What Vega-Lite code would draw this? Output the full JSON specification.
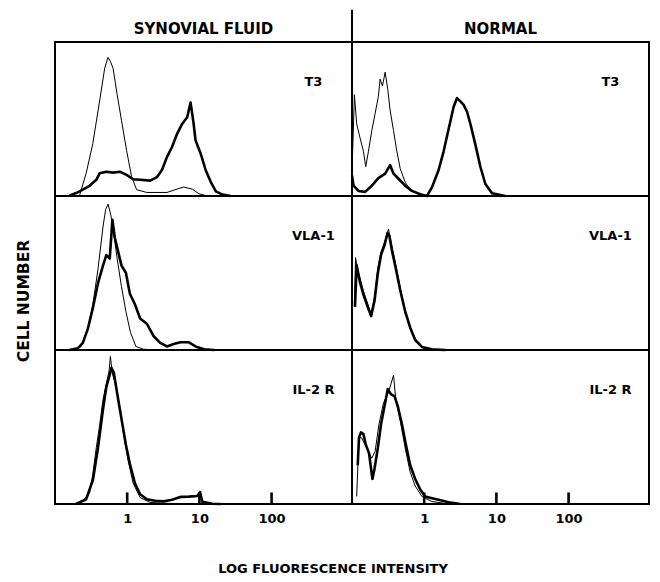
{
  "$schema": "https://vega.github.io/schema/vega-lite/v6.json",
  "background": "white",
  "padding": {"left": 16, "top": 7, "right": 5, "bottom": 5},
  "bounds": "flush",
  "data": {"values": [
    {"s":"SF","m":"T3","k":"label"},
    {"s":"SF","m":"VLA-1","k":"label"},
    {"s":"SF","m":"IL-2 R","k":"label"},
    {"s":"N","m":"T3","k":"label"},
    {"s":"N","m":"VLA-1","k":"label"},
    {"s":"N","m":"IL-2 R","k":"label"},
    {"s":"N","m":"T3","k":"div"},
    {"s":"SF","m":"VLA-1","k":"ytitle","t":"CELL  NUMBER"},

    {"s":"SF","m":"IL-2 R","k":"t1","x":1,"y":0},
    {"s":"SF","m":"IL-2 R","k":"t1","x":1,"y":7.5},
    {"s":"SF","m":"IL-2 R","k":"t10","x":10,"y":0},
    {"s":"SF","m":"IL-2 R","k":"t10","x":10,"y":7.5},
    {"s":"SF","m":"IL-2 R","k":"t100","x":100,"y":0},
    {"s":"SF","m":"IL-2 R","k":"t100","x":100,"y":7.5},
    {"s":"N","m":"IL-2 R","k":"t1","x":1,"y":0},
    {"s":"N","m":"IL-2 R","k":"t1","x":1,"y":7.5},
    {"s":"N","m":"IL-2 R","k":"t10","x":10,"y":0},
    {"s":"N","m":"IL-2 R","k":"t10","x":10,"y":7.5},
    {"s":"N","m":"IL-2 R","k":"t100","x":100,"y":0},
    {"s":"N","m":"IL-2 R","k":"t100","x":100,"y":7.5},

    {"s":"SF","m":"T3","k":"c","x":0.218,"y":0},
    {"s":"SF","m":"T3","k":"c","x":0.270,"y":14.7},
    {"s":"SF","m":"T3","k":"c","x":0.334,"y":34},
    {"s":"SF","m":"T3","k":"c","x":0.415,"y":61.7},
    {"s":"SF","m":"T3","k":"c","x":0.488,"y":83},
    {"s":"SF","m":"T3","k":"c","x":0.542,"y":90},
    {"s":"SF","m":"T3","k":"c","x":0.586,"y":87.4},
    {"s":"SF","m":"T3","k":"c","x":0.637,"y":83},
    {"s":"SF","m":"T3","k":"c","x":0.725,"y":66},
    {"s":"SF","m":"T3","k":"c","x":0.835,"y":48.9},
    {"s":"SF","m":"T3","k":"c","x":0.98,"y":29.7},
    {"s":"SF","m":"T3","k":"c","x":1.15,"y":12.6},
    {"s":"SF","m":"T3","k":"c","x":1.35,"y":4.1},
    {"s":"SF","m":"T3","k":"c","x":1.87,"y":2.3},
    {"s":"SF","m":"T3","k":"c","x":3.56,"y":2.3},
    {"s":"SF","m":"T3","k":"c","x":4.91,"y":4.5},
    {"s":"SF","m":"T3","k":"c","x":6.07,"y":5.8},
    {"s":"SF","m":"T3","k":"c","x":7.96,"y":4.5},
    {"s":"SF","m":"T3","k":"c","x":9.84,"y":1.5},
    {"s":"SF","m":"T3","k":"c","x":12.9,"y":0},

    {"s":"SF","m":"T3","k":"s","x":0.158,"y":0.2},
    {"s":"SF","m":"T3","k":"s","x":0.196,"y":1.9},
    {"s":"SF","m":"T3","k":"s","x":0.243,"y":4.1},
    {"s":"SF","m":"T3","k":"s","x":0.301,"y":6.6},
    {"s":"SF","m":"T3","k":"s","x":0.373,"y":10.5},
    {"s":"SF","m":"T3","k":"s","x":0.415,"y":14.7},
    {"s":"SF","m":"T3","k":"s","x":0.515,"y":15.8},
    {"s":"SF","m":"T3","k":"s","x":0.637,"y":15.2},
    {"s":"SF","m":"T3","k":"s","x":0.791,"y":15.8},
    {"s":"SF","m":"T3","k":"s","x":0.98,"y":13.7},
    {"s":"SF","m":"T3","k":"s","x":1.21,"y":10.9},
    {"s":"SF","m":"T3","k":"s","x":1.51,"y":10.5},
    {"s":"SF","m":"T3","k":"s","x":2.08,"y":10},
    {"s":"SF","m":"T3","k":"s","x":2.58,"y":12.2},
    {"s":"SF","m":"T3","k":"s","x":3.03,"y":16.9},
    {"s":"SF","m":"T3","k":"s","x":3.56,"y":25.4},
    {"s":"SF","m":"T3","k":"s","x":4.18,"y":31.8},
    {"s":"SF","m":"T3","k":"s","x":4.91,"y":40.4},
    {"s":"SF","m":"T3","k":"s","x":5.77,"y":46.8},
    {"s":"SF","m":"T3","k":"s","x":6.78,"y":51.1},
    {"s":"SF","m":"T3","k":"s","x":7.54,"y":60.7},
    {"s":"SF","m":"T3","k":"s","x":8.22,"y":48.9},
    {"s":"SF","m":"T3","k":"s","x":8.85,"y":36.1},
    {"s":"SF","m":"T3","k":"s","x":10.4,"y":27.6},
    {"s":"SF","m":"T3","k":"s","x":12.2,"y":16.9},
    {"s":"SF","m":"T3","k":"s","x":14.3,"y":9.4},
    {"s":"SF","m":"T3","k":"s","x":16.9,"y":3},
    {"s":"SF","m":"T3","k":"s","x":20.9,"y":0.9},
    {"s":"SF","m":"T3","k":"s","x":27.3,"y":0},

    {"s":"N","m":"T3","k":"c","x":0.1,"y":15.6},
    {"s":"N","m":"T3","k":"c","x":0.108,"y":65.8},
    {"s":"N","m":"T3","k":"c","x":0.116,"y":46.9},
    {"s":"N","m":"T3","k":"c","x":0.129,"y":37.9},
    {"s":"N","m":"T3","k":"c","x":0.144,"y":29},
    {"s":"N","m":"T3","k":"c","x":0.155,"y":19},
    {"s":"N","m":"T3","k":"c","x":0.169,"y":29},
    {"s":"N","m":"T3","k":"c","x":0.188,"y":42.4},
    {"s":"N","m":"T3","k":"c","x":0.209,"y":53.6},
    {"s":"N","m":"T3","k":"c","x":0.232,"y":64.7},
    {"s":"N","m":"T3","k":"c","x":0.245,"y":75.9},
    {"s":"N","m":"T3","k":"c","x":0.264,"y":71.4},
    {"s":"N","m":"T3","k":"c","x":0.288,"y":80.4},
    {"s":"N","m":"T3","k":"c","x":0.313,"y":69.2},
    {"s":"N","m":"T3","k":"c","x":0.337,"y":55.8},
    {"s":"N","m":"T3","k":"c","x":0.376,"y":42.4},
    {"s":"N","m":"T3","k":"c","x":0.418,"y":29},
    {"s":"N","m":"T3","k":"c","x":0.465,"y":17.9},
    {"s":"N","m":"T3","k":"c","x":0.545,"y":8.9},
    {"s":"N","m":"T3","k":"c","x":0.640,"y":4.5},
    {"s":"N","m":"T3","k":"c","x":0.792,"y":1.8},
    {"s":"N","m":"T3","k":"c","x":1.03,"y":0.4},
    {"s":"N","m":"T3","k":"c","x":1.28,"y":0},

    {"s":"N","m":"T3","k":"s","x":0.1,"y":13.4},
    {"s":"N","m":"T3","k":"s","x":0.105,"y":6.7},
    {"s":"N","m":"T3","k":"s","x":0.123,"y":3.3},
    {"s":"N","m":"T3","k":"s","x":0.152,"y":2.7},
    {"s":"N","m":"T3","k":"s","x":0.188,"y":6.7},
    {"s":"N","m":"T3","k":"s","x":0.232,"y":11.6},
    {"s":"N","m":"T3","k":"s","x":0.288,"y":14.5},
    {"s":"N","m":"T3","k":"s","x":0.337,"y":20.1},
    {"s":"N","m":"T3","k":"s","x":0.376,"y":14.5},
    {"s":"N","m":"T3","k":"s","x":0.441,"y":11.2},
    {"s":"N","m":"T3","k":"s","x":0.545,"y":6.7},
    {"s":"N","m":"T3","k":"s","x":0.675,"y":3.3},
    {"s":"N","m":"T3","k":"s","x":0.881,"y":1.1},
    {"s":"N","m":"T3","k":"s","x":1.09,"y":0},
    {"s":"N","m":"T3","k":"s","x":1.28,"y":5.6},
    {"s":"N","m":"T3","k":"s","x":1.58,"y":16.7},
    {"s":"N","m":"T3","k":"s","x":1.86,"y":29},
    {"s":"N","m":"T3","k":"s","x":2.18,"y":43.5},
    {"s":"N","m":"T3","k":"s","x":2.56,"y":58},
    {"s":"N","m":"T3","k":"s","x":2.85,"y":63.6},
    {"s":"N","m":"T3","k":"s","x":3.17,"y":61.4},
    {"s":"N","m":"T3","k":"s","x":3.52,"y":59.2},
    {"s":"N","m":"T3","k":"s","x":3.92,"y":54.7},
    {"s":"N","m":"T3","k":"s","x":4.36,"y":46.9},
    {"s":"N","m":"T3","k":"s","x":5.11,"y":33.5},
    {"s":"N","m":"T3","k":"s","x":6.0,"y":19},
    {"s":"N","m":"T3","k":"s","x":7.04,"y":7.8},
    {"s":"N","m":"T3","k":"s","x":8.71,"y":1.8},
    {"s":"N","m":"T3","k":"s","x":13.3,"y":0},

    {"s":"SF","m":"VLA-1","k":"c","x":0.176,"y":0},
    {"s":"SF","m":"VLA-1","k":"c","x":0.230,"y":2.3},
    {"s":"SF","m":"VLA-1","k":"c","x":0.285,"y":13.7},
    {"s":"SF","m":"VLA-1","k":"c","x":0.335,"y":29.7},
    {"s":"SF","m":"VLA-1","k":"c","x":0.394,"y":52.5},
    {"s":"SF","m":"VLA-1","k":"c","x":0.462,"y":79.9},
    {"s":"SF","m":"VLA-1","k":"c","x":0.503,"y":91.3},
    {"s":"SF","m":"VLA-1","k":"c","x":0.543,"y":94.7},
    {"s":"SF","m":"VLA-1","k":"c","x":0.592,"y":87.9},
    {"s":"SF","m":"VLA-1","k":"c","x":0.652,"y":75.3},
    {"s":"SF","m":"VLA-1","k":"c","x":0.726,"y":59.4},
    {"s":"SF","m":"VLA-1","k":"c","x":0.834,"y":41.1},
    {"s":"SF","m":"VLA-1","k":"c","x":0.959,"y":25.1},
    {"s":"SF","m":"VLA-1","k":"c","x":1.11,"y":11.4},
    {"s":"SF","m":"VLA-1","k":"c","x":1.32,"y":2.3},
    {"s":"SF","m":"VLA-1","k":"c","x":1.68,"y":0.5},
    {"s":"SF","m":"VLA-1","k":"c","x":2.58,"y":0},

    {"s":"SF","m":"VLA-1","k":"s","x":0.158,"y":0},
    {"s":"SF","m":"VLA-1","k":"s","x":0.207,"y":1.1},
    {"s":"SF","m":"VLA-1","k":"s","x":0.243,"y":4.6},
    {"s":"SF","m":"VLA-1","k":"s","x":0.285,"y":13.7},
    {"s":"SF","m":"VLA-1","k":"s","x":0.335,"y":27.4},
    {"s":"SF","m":"VLA-1","k":"s","x":0.394,"y":43.4},
    {"s":"SF","m":"VLA-1","k":"s","x":0.462,"y":54.8},
    {"s":"SF","m":"VLA-1","k":"s","x":0.514,"y":61.6},
    {"s":"SF","m":"VLA-1","k":"s","x":0.573,"y":59.4},
    {"s":"SF","m":"VLA-1","k":"s","x":0.624,"y":84.5},
    {"s":"SF","m":"VLA-1","k":"s","x":0.673,"y":73.1},
    {"s":"SF","m":"VLA-1","k":"s","x":0.749,"y":63.9},
    {"s":"SF","m":"VLA-1","k":"s","x":0.834,"y":54.8},
    {"s":"SF","m":"VLA-1","k":"s","x":0.959,"y":50.2},
    {"s":"SF","m":"VLA-1","k":"s","x":1.09,"y":36.5},
    {"s":"SF","m":"VLA-1","k":"s","x":1.28,"y":29.7},
    {"s":"SF","m":"VLA-1","k":"s","x":1.51,"y":20.5},
    {"s":"SF","m":"VLA-1","k":"s","x":1.87,"y":17.1},
    {"s":"SF","m":"VLA-1","k":"s","x":2.31,"y":9.1},
    {"s":"SF","m":"VLA-1","k":"s","x":2.87,"y":4.6},
    {"s":"SF","m":"VLA-1","k":"s","x":3.55,"y":2.3},
    {"s":"SF","m":"VLA-1","k":"s","x":4.4,"y":3.9},
    {"s":"SF","m":"VLA-1","k":"s","x":5.46,"y":5.0},
    {"s":"SF","m":"VLA-1","k":"s","x":7.14,"y":5.0},
    {"s":"SF","m":"VLA-1","k":"s","x":8.85,"y":2.3},
    {"s":"SF","m":"VLA-1","k":"s","x":11.6,"y":0.5},
    {"s":"SF","m":"VLA-1","k":"s","x":16,"y":0},

    {"s":"N","m":"VLA-1","k":"c","x":0.108,"y":30},
    {"s":"N","m":"VLA-1","k":"c","x":0.112,"y":60},
    {"s":"N","m":"VLA-1","k":"c","x":0.12,"y":52},
    {"s":"N","m":"VLA-1","k":"c","x":0.129,"y":46.8},
    {"s":"N","m":"VLA-1","k":"c","x":0.144,"y":38.4},
    {"s":"N","m":"VLA-1","k":"c","x":0.165,"y":30},
    {"s":"N","m":"VLA-1","k":"c","x":0.184,"y":23.6},
    {"s":"N","m":"VLA-1","k":"c","x":0.205,"y":34.2},
    {"s":"N","m":"VLA-1","k":"c","x":0.228,"y":53.2},
    {"s":"N","m":"VLA-1","k":"c","x":0.253,"y":63.7},
    {"s":"N","m":"VLA-1","k":"c","x":0.282,"y":70},
    {"s":"N","m":"VLA-1","k":"c","x":0.32,"y":78.5},
    {"s":"N","m":"VLA-1","k":"c","x":0.356,"y":67.9},
    {"s":"N","m":"VLA-1","k":"c","x":0.404,"y":55.3},
    {"s":"N","m":"VLA-1","k":"c","x":0.465,"y":40.5},
    {"s":"N","m":"VLA-1","k":"c","x":0.545,"y":25.7},
    {"s":"N","m":"VLA-1","k":"c","x":0.640,"y":15.2},
    {"s":"N","m":"VLA-1","k":"c","x":0.751,"y":6.8},
    {"s":"N","m":"VLA-1","k":"c","x":0.929,"y":2.1},
    {"s":"N","m":"VLA-1","k":"c","x":1.28,"y":0.4},
    {"s":"N","m":"VLA-1","k":"c","x":1.96,"y":0},

    {"s":"N","m":"VLA-1","k":"s","x":0.11,"y":28},
    {"s":"N","m":"VLA-1","k":"s","x":0.116,"y":55},
    {"s":"N","m":"VLA-1","k":"s","x":0.129,"y":44},
    {"s":"N","m":"VLA-1","k":"s","x":0.144,"y":36},
    {"s":"N","m":"VLA-1","k":"s","x":0.165,"y":28},
    {"s":"N","m":"VLA-1","k":"s","x":0.184,"y":22},
    {"s":"N","m":"VLA-1","k":"s","x":0.205,"y":32},
    {"s":"N","m":"VLA-1","k":"s","x":0.228,"y":50},
    {"s":"N","m":"VLA-1","k":"s","x":0.253,"y":62},
    {"s":"N","m":"VLA-1","k":"s","x":0.282,"y":68},
    {"s":"N","m":"VLA-1","k":"s","x":0.31,"y":76},
    {"s":"N","m":"VLA-1","k":"s","x":0.33,"y":74},
    {"s":"N","m":"VLA-1","k":"s","x":0.356,"y":65},
    {"s":"N","m":"VLA-1","k":"s","x":0.404,"y":53},
    {"s":"N","m":"VLA-1","k":"s","x":0.465,"y":39},
    {"s":"N","m":"VLA-1","k":"s","x":0.545,"y":25},
    {"s":"N","m":"VLA-1","k":"s","x":0.64,"y":14.5},
    {"s":"N","m":"VLA-1","k":"s","x":0.751,"y":6.5},
    {"s":"N","m":"VLA-1","k":"s","x":0.929,"y":2},
    {"s":"N","m":"VLA-1","k":"s","x":1.28,"y":0.4},
    {"s":"N","m":"VLA-1","k":"s","x":1.96,"y":0},

    {"s":"SF","m":"IL-2 R","k":"c","x":0.186,"y":0},
    {"s":"SF","m":"IL-2 R","k":"c","x":0.243,"y":2.1},
    {"s":"SF","m":"IL-2 R","k":"c","x":0.301,"y":7.3},
    {"s":"SF","m":"IL-2 R","k":"c","x":0.335,"y":19.8},
    {"s":"SF","m":"IL-2 R","k":"c","x":0.373,"y":36.5},
    {"s":"SF","m":"IL-2 R","k":"c","x":0.415,"y":51},
    {"s":"SF","m":"IL-2 R","k":"c","x":0.462,"y":67.7},
    {"s":"SF","m":"IL-2 R","k":"c","x":0.514,"y":78.1},
    {"s":"SF","m":"IL-2 R","k":"c","x":0.561,"y":86.5},
    {"s":"SF","m":"IL-2 R","k":"c","x":0.585,"y":95.8},
    {"s":"SF","m":"IL-2 R","k":"c","x":0.624,"y":84.4},
    {"s":"SF","m":"IL-2 R","k":"c","x":0.71,"y":76},
    {"s":"SF","m":"IL-2 R","k":"c","x":0.791,"y":61.5},
    {"s":"SF","m":"IL-2 R","k":"c","x":0.9,"y":44.8},
    {"s":"SF","m":"IL-2 R","k":"c","x":1.03,"y":28.1},
    {"s":"SF","m":"IL-2 R","k":"c","x":1.21,"y":13.5},
    {"s":"SF","m":"IL-2 R","k":"c","x":1.51,"y":4.2},
    {"s":"SF","m":"IL-2 R","k":"c","x":2.08,"y":1},
    {"s":"SF","m":"IL-2 R","k":"c","x":3.55,"y":0.4},
    {"s":"SF","m":"IL-2 R","k":"c","x":6.08,"y":0.2},
    {"s":"SF","m":"IL-2 R","k":"c","x":12.9,"y":0},

    {"s":"SF","m":"IL-2 R","k":"s","x":0.196,"y":0},
    {"s":"SF","m":"IL-2 R","k":"s","x":0.270,"y":3.1},
    {"s":"SF","m":"IL-2 R","k":"s","x":0.335,"y":15.6},
    {"s":"SF","m":"IL-2 R","k":"s","x":0.394,"y":36.5},
    {"s":"SF","m":"IL-2 R","k":"s","x":0.462,"y":61.5},
    {"s":"SF","m":"IL-2 R","k":"s","x":0.514,"y":76},
    {"s":"SF","m":"IL-2 R","k":"s","x":0.561,"y":82.3},
    {"s":"SF","m":"IL-2 R","k":"s","x":0.605,"y":88.5},
    {"s":"SF","m":"IL-2 R","k":"s","x":0.652,"y":85.4},
    {"s":"SF","m":"IL-2 R","k":"s","x":0.726,"y":71.9},
    {"s":"SF","m":"IL-2 R","k":"s","x":0.834,"y":55.2},
    {"s":"SF","m":"IL-2 R","k":"s","x":0.959,"y":38.5},
    {"s":"SF","m":"IL-2 R","k":"s","x":1.09,"y":26},
    {"s":"SF","m":"IL-2 R","k":"s","x":1.28,"y":13.5},
    {"s":"SF","m":"IL-2 R","k":"s","x":1.51,"y":6.3},
    {"s":"SF","m":"IL-2 R","k":"s","x":1.87,"y":3.1},
    {"s":"SF","m":"IL-2 R","k":"s","x":2.44,"y":2.1},
    {"s":"SF","m":"IL-2 R","k":"s","x":3.19,"y":1.7},
    {"s":"SF","m":"IL-2 R","k":"s","x":4.17,"y":2.7},
    {"s":"SF","m":"IL-2 R","k":"s","x":5.46,"y":4.6},
    {"s":"SF","m":"IL-2 R","k":"s","x":7.14,"y":4.8},
    {"s":"SF","m":"IL-2 R","k":"s","x":9.33,"y":5.2},
    {"s":"SF","m":"IL-2 R","k":"s","x":10.2,"y":7.7},
    {"s":"SF","m":"IL-2 R","k":"s","x":11,"y":1.5},
    {"s":"SF","m":"IL-2 R","k":"s","x":15.1,"y":0.2},
    {"s":"SF","m":"IL-2 R","k":"s","x":19.8,"y":0},

    {"s":"N","m":"IL-2 R","k":"c","x":0.116,"y":4.9},
    {"s":"N","m":"IL-2 R","k":"c","x":0.125,"y":43.1},
    {"s":"N","m":"IL-2 R","k":"c","x":0.135,"y":43.1},
    {"s":"N","m":"IL-2 R","k":"c","x":0.16,"y":36.4},
    {"s":"N","m":"IL-2 R","k":"c","x":0.188,"y":29.7},
    {"s":"N","m":"IL-2 R","k":"c","x":0.209,"y":34.2},
    {"s":"N","m":"IL-2 R","k":"c","x":0.237,"y":52.1},
    {"s":"N","m":"IL-2 R","k":"c","x":0.273,"y":65.6},
    {"s":"N","m":"IL-2 R","k":"c","x":0.32,"y":72.4},
    {"s":"N","m":"IL-2 R","k":"c","x":0.376,"y":83.6},
    {"s":"N","m":"IL-2 R","k":"c","x":0.404,"y":67.9},
    {"s":"N","m":"IL-2 R","k":"c","x":0.465,"y":54.4},
    {"s":"N","m":"IL-2 R","k":"c","x":0.545,"y":36.4},
    {"s":"N","m":"IL-2 R","k":"c","x":0.64,"y":20.7},
    {"s":"N","m":"IL-2 R","k":"c","x":0.751,"y":11.7},
    {"s":"N","m":"IL-2 R","k":"c","x":0.929,"y":4.9},
    {"s":"N","m":"IL-2 R","k":"c","x":1.28,"y":1.6},
    {"s":"N","m":"IL-2 R","k":"c","x":1.96,"y":0.4},
    {"s":"N","m":"IL-2 R","k":"c","x":3.3,"y":0},

    {"s":"N","m":"IL-2 R","k":"s","x":0.12,"y":25.2},
    {"s":"N","m":"IL-2 R","k":"s","x":0.125,"y":43.1},
    {"s":"N","m":"IL-2 R","k":"s","x":0.133,"y":46.5},
    {"s":"N","m":"IL-2 R","k":"s","x":0.144,"y":45.4},
    {"s":"N","m":"IL-2 R","k":"s","x":0.155,"y":38.7},
    {"s":"N","m":"IL-2 R","k":"s","x":0.172,"y":33},
    {"s":"N","m":"IL-2 R","k":"s","x":0.192,"y":16.2},
    {"s":"N","m":"IL-2 R","k":"s","x":0.205,"y":22.9},
    {"s":"N","m":"IL-2 R","k":"s","x":0.228,"y":36.4},
    {"s":"N","m":"IL-2 R","k":"s","x":0.253,"y":52.1},
    {"s":"N","m":"IL-2 R","k":"s","x":0.282,"y":63.4},
    {"s":"N","m":"IL-2 R","k":"s","x":0.313,"y":74.6},
    {"s":"N","m":"IL-2 R","k":"s","x":0.348,"y":71.2},
    {"s":"N","m":"IL-2 R","k":"s","x":0.388,"y":70.1},
    {"s":"N","m":"IL-2 R","k":"s","x":0.431,"y":63.4},
    {"s":"N","m":"IL-2 R","k":"s","x":0.49,"y":52.1},
    {"s":"N","m":"IL-2 R","k":"s","x":0.557,"y":38.7},
    {"s":"N","m":"IL-2 R","k":"s","x":0.640,"y":25.2},
    {"s":"N","m":"IL-2 R","k":"s","x":0.751,"y":16.2},
    {"s":"N","m":"IL-2 R","k":"s","x":0.881,"y":9.4},
    {"s":"N","m":"IL-2 R","k":"s","x":1.03,"y":4.9},
    {"s":"N","m":"IL-2 R","k":"s","x":1.28,"y":3.8},
    {"s":"N","m":"IL-2 R","k":"s","x":1.58,"y":2.7},
    {"s":"N","m":"IL-2 R","k":"s","x":2.18,"y":1.1},
    {"s":"N","m":"IL-2 R","k":"s","x":3.17,"y":0}
  ]},
  "spacing": {"row": 0, "column": 0},
  "facet": {
    "row": {
      "field": "m", "type": "nominal", "sort": ["T3", "VLA-1", "IL-2 R"],
      "title": null,
      "header": {"labels": false}
    },
    "column": {
      "field": "s", "type": "nominal", "sort": ["SF", "N"],
      "title": "LOG  FLUORESCENCE  INTENSITY",
      "header": {
        "labelOrient": "top", "titleOrient": "bottom",
        "labelExpr": "datum.value == 'SF' ? 'SYNOVIAL  FLUID' : 'NORMAL'",
        "labelFont": "DejaVu Sans", "labelFontWeight": "bold", "labelFontSize": 15, "labelColor": "black", "labelPadding": 5,
        "titleFont": "DejaVu Sans", "titleFontWeight": "bold", "titleFontSize": 13, "titleColor": "black", "titlePadding": 28
      }
    }
  },
  "spec": {
    "width": 297,
    "height": 154,
    "layer": [
      {
        "transform": [{"filter": "datum.k == 'c' || datum.k == 's' || datum.k == 't1' || datum.k == 't10' || datum.k == 't100'"}],
        "mark": {"type": "line", "color": "black", "strokeJoin": "round", "interpolate": "linear"},
        "encoding": {
          "x": {
            "field": "x", "type": "quantitative",
            "scale": {"type": "log", "domain": [0.1, 1300], "nice": false},
            "axis": {"values": [1, 10, 100], "format": "d", "ticks": false, "domain": false, "grid": false, "labelFont": "DejaVu Sans", "labelFontWeight": "bold", "labelFontSize": 13, "labelColor": "black", "labelPadding": 8, "labelFlush": false, "title": null}
          },
          "y": {"field": "y", "type": "quantitative", "scale": {"domain": [0, 100], "nice": false}, "axis": null},
          "detail": {"field": "k", "type": "nominal"},
          "strokeWidth": {"condition": {"test": "datum.k == 'c'", "value": 1}, "value": 2.6}
        }
      },
      {
        "transform": [{"filter": "datum.k == 'label'"}],
        "mark": {"type": "text", "font": "DejaVu Sans", "fontWeight": "bold", "fontSize": 13, "align": "center", "baseline": "middle", "color": "black"},
        "encoding": {
          "x": {"datum": 380},
          "y": {"datum": 74},
          "text": {"field": "m", "type": "nominal"}
        }
      },
      {
        "transform": [{"filter": "datum.k == 'ytitle'"}],
        "mark": {"type": "text", "font": "DejaVu Sans", "fontWeight": "bold", "fontSize": 15.5, "align": "center", "baseline": "middle", "angle": 270, "color": "black", "clip": false},
        "encoding": {
          "x": {"datum": 0.0378},
          "y": {"datum": 31.8},
          "text": {"field": "t", "type": "nominal"}
        }
      },
      {
        "transform": [{"filter": "datum.k == 'div'"}],
        "mark": {"type": "rule", "clip": false, "strokeWidth": 2, "color": "black"},
        "encoding": {
          "x": {"datum": 0.1},
          "y": {"datum": 100},
          "y2": {"datum": 121}
        }
      }
    ]
  },
  "config": {
    "view": {"stroke": "black", "strokeWidth": 2}
  }
}
